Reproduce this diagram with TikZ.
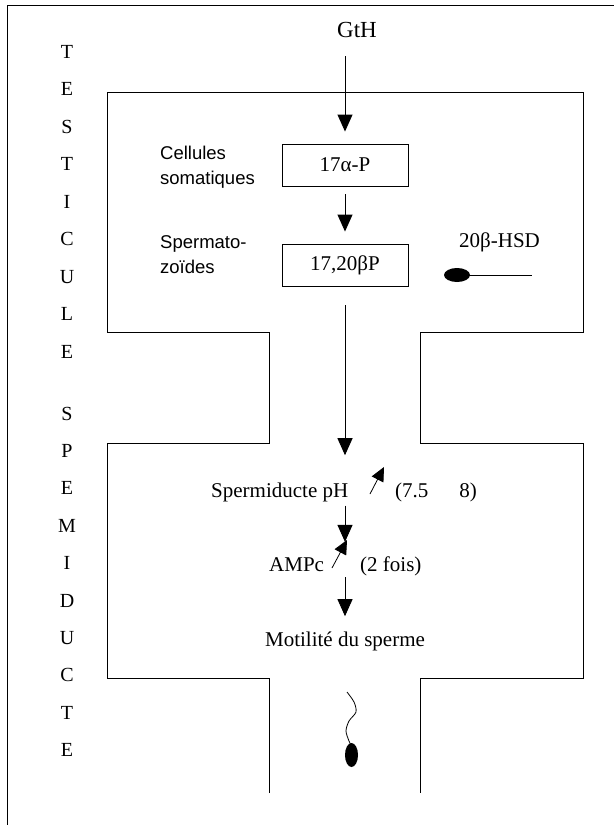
\documentclass[tikz,border=0pt]{standalone}
\usepackage{fontspec}
\setmainfont{Liberation Serif}
\setsansfont{Liberation Sans}
\usetikzlibrary{arrows.meta}

\begin{document}
\begin{tikzpicture}[x=1pt,y=-1pt]
 \tikzstyle{boite}=[draw, line width=0.9pt, minimum width=126pt, minimum height=42pt, inner sep=0pt, font=\fontsize{21}{24}\selectfont]
 \tikzstyle{texte}=[inner sep=0pt, font=\fontsize{21}{24}\selectfont]
 \tikzstyle{legende}=[inner sep=0pt, align=left, font=\sffamily\fontsize{18.5}{25}\selectfont]
 \tikzstyle{lettre}=[inner sep=0pt, anchor=base, font=\fontsize{20}{24}\selectfont]
 \tikzstyle{fleche}=[-{Triangle[length=17pt,width=15pt]}, line width=0.9pt]
 \tikzstyle{petite}=[-{Triangle[length=14pt,width=13pt]}, line width=0.8pt]
 \useasboundingbox (0,0) rectangle (614,825);
 %
 \draw[line width=0.8pt] (7,825) -- (7,5) -- (614,5);
 \draw[line width=1pt] (269,793) -- (269,678) -- (107,678) -- (107,443) -- (269,443) -- (269,332)
  -- (107,332) -- (107,92) -- (583,92) -- (583,332) -- (420,332) -- (420,443)
  -- (583,443) -- (583,678) -- (420,678) -- (420,793);
 %
 \foreach \car [count=\i] in {T,E,S,T,I,C,U,L,E}
  \node[lettre] (test\i) at (67,{58+37.5*(\i-1)}) {\car};
 \foreach \car [count=\i] in {S,P,E,M,I,D,U,C,T,E}
  \node[lettre] (sper\i) at (67,{420+37.4*(\i-1)}) {\car};
 %
 \node[texte, anchor=base, font=\fontsize{23}{26}\selectfont] (GtH) at (357,37) {GtH};
 \node[boite] (P17a) at (345,165) {17α-P};
 \node[boite] (P1720) at (345,265) {17,20βP};
 \node[legende, anchor=west] (cell) at (160,167) {Cellules\\somatiques};
 \node[legende, anchor=west] (spz) at (160,255) {Spermato-\\zoïdes};
 \node[texte, anchor=base west] (HSD) at (459,247) {20β-HSD};
 %
 \node[texte, anchor=base west] (pH) at (211,497) {Spermiducte pH};
 \node[texte, anchor=base west] (val) at (395,497) {(7.5\hspace{31pt}8)};
 \node[texte, anchor=base west] (AMPc) at (269,571) {AMPc};
 \node[texte, anchor=base west] (fois) at (360,571) {(2 fois)};
 \node[texte, anchor=base] (motil) at (345,646) {Motilité du sperme};
 %%
 \draw[fleche, shorten <=19pt, shorten >=12pt] (GtH.south -| P17a.north) -- (P17a.north);
 \draw[fleche, shorten <=8pt, shorten >=12pt] (P17a) -- (P1720);
 \draw[fleche, shorten <=19pt, shorten >=27pt] (P1720.south) -- (P1720.south |- pH.north);
 \draw[fleche, shorten <=4pt, shorten >=15pt] (pH.south -| P1720.south) -- (AMPc.north -| P1720.south);
 \draw[fleche, shorten <=6pt, shorten >=15pt] (AMPc.south -| P1720.south) -- (motil.north);
 \draw[petite] (370,494) -- (384,467);
 \draw[petite] (332,568) -- (347,540);
 %
 \fill (457,275) ellipse [x radius=13, y radius=7];
 \draw[line width=0.9pt] (468,275) -- (532,275);
 \draw[line width=0.8pt] plot[smooth] coordinates {(347,692) (354,702) (356,712) (349,721) (346,731) (349,741) (351,745)};
 \fill (351.5,755) ellipse [x radius=6.5, y radius=12];
\end{tikzpicture}
\end{document}
